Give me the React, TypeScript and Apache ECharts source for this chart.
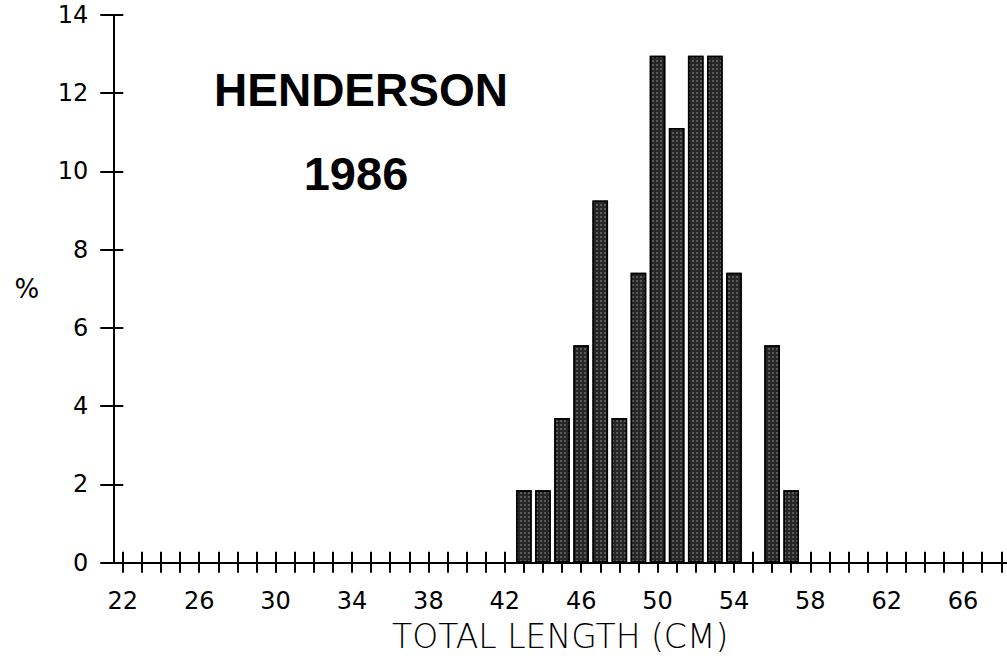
import React, { useEffect, useRef } from "react";
import * as echarts from "echarts";

const lengths = [43, 44, 45, 46, 47, 48, 49, 50, 51, 52, 53, 54, 56, 57];
const percents = [1.85, 1.85, 3.7, 5.56, 9.26, 3.7, 7.41, 12.96, 11.11, 12.96, 12.96, 7.41, 5.56, 1.85];
const xTickValues = Array.from({ length: 47 }, (_, i) => 22 + i);
const xLabelValues = [22, 26, 30, 34, 38, 42, 46, 50, 54, 58, 62, 66];
const titleLines = ["HENDERSON", "1986"];
const xName = "TOTAL LENGTH (CM)";
const yName = "%";

export default function App() {
  const ref = useRef<HTMLDivElement>(null);
  useEffect(() => {
    if (!ref.current) return;
    const chart = echarts.init(ref.current, null, { renderer: "svg" });
    const font = "DejaVu Sans";
    const lineStyle = { color: "#000", width: 2 };
    const xCommon = {
      type: "value",
      min: 21.5,
      max: 68.3,
      position: "bottom",
      splitLine: { show: false },
    };
    const yCommon = {
      type: "value",
      min: 0,
      max: 14,
      interval: 2,
      position: "left",
      splitLine: { show: false },
    };
    chart.setOption({
      animation: false,
      backgroundColor: "#fff",
      grid: { left: 113.3, right: 0, top: 15, bottom: 99.3, containLabel: false },
      xAxis: [
        {
          ...xCommon,
          axisLine: { show: true, lineStyle },
          axisTick: { show: true, customValues: xTickValues, length: 10, lineStyle },
          axisLabel: {
            customValues: xLabelValues,
            margin: 26,
            fontSize: 24,
            color: "#000",
            fontFamily: font,
          },
          name: xName,
          nameLocation: "middle",
          nameGap: 57,
          nameTextStyle: { fontSize: 33, color: "#000", fontFamily: font, fontWeight: 300 },
        },
        {
          ...xCommon,
          axisLine: { show: false },
          axisTick: { show: true, inside: true, customValues: xTickValues, length: 11, lineStyle },
          axisLabel: { show: false },
        },
      ],
      yAxis: [
        {
          ...yCommon,
          axisLine: { show: true, lineStyle },
          axisTick: { show: true, length: 13, lineStyle },
          axisLabel: { margin: 25, fontSize: 24, color: "#000", fontFamily: font },
          name: yName,
          nameLocation: "middle",
          nameRotate: 0,
          nameGap: 74,
          nameTextStyle: { fontSize: 26, color: "#000", fontFamily: font },
        },
        {
          ...yCommon,
          axisLine: { show: false },
          axisTick: { show: true, inside: true, length: 10, lineStyle },
          axisLabel: { show: false },
        },
      ],
      graphic: [
        {
          type: "text",
          x: 361,
          y: 90,
          style: {
            text: titleLines[0],
            fill: "#000",
            font: "bold 46px 'Liberation Sans'",
            textAlign: "center",
            textVerticalAlign: "middle",
          },
        },
        {
          type: "text",
          x: 356,
          y: 173,
          style: {
            text: titleLines[1],
            fill: "#000",
            font: "bold 47px 'Liberation Sans'",
            textAlign: "center",
            textVerticalAlign: "middle",
          },
        },
      ],
      series: [
        {
          type: "bar",
          xAxisIndex: 0,
          yAxisIndex: 0,
          barWidth: 15.6,
          data: lengths.map((l, i) => [l, percents[i]]),
          itemStyle: {
            color: "#262626",
            borderColor: "#000",
            borderWidth: 1.5,
            decal: {
              symbol: "circle",
              symbolSize: 0.7,
              color: "rgba(255,255,255,0.6)",
              dashArrayX: [2, 2],
              dashArrayY: [2, 2],
              rotation: 0,
            },
          },
        },
      ],
    });
    return () => chart.dispose();
  }, []);
  return (
    <div
      ref={ref}
      style={{ position: "fixed", left: 0, top: 0, width: 1007, height: 662 }}
    />
  );
}
